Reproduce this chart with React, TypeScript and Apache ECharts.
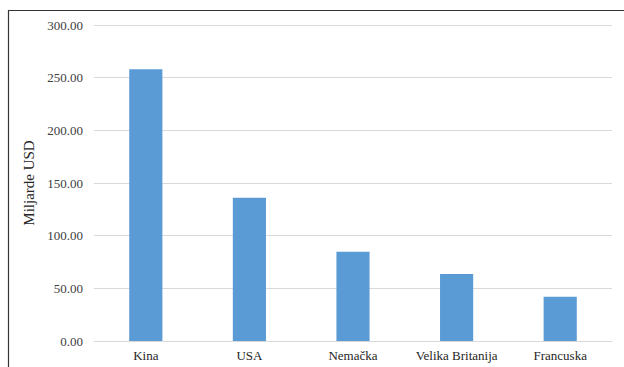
import React, { useEffect, useRef } from "react";
import * as echarts from "echarts";

const categories = ["Kina", "USA", "Nemačka", "Velika Britanija", "Francuska"];
const values = [258, 136, 84.7, 63.5, 42];
const yTicks = { min: 0, max: 300, interval: 50 };
const yAxisName = "Miljarde USD";

export default function App() {
  const ref = useRef<HTMLDivElement>(null);
  useEffect(() => {
    if (!ref.current) return;
    const chart = echarts.init(ref.current, null, { renderer: "svg" });
    const font = "Liberation Serif";
    chart.setOption({
      animation: false,
      textStyle: { fontFamily: font },
      grid: { left: 94, right: 12, top: 25, bottom: 26, containLabel: false },
      graphic: [
        {
          type: "rect",
          shape: { x: 8.5, y: 10.5, width: 700, height: 400 },
          style: { fill: "none", stroke: "#333333", lineWidth: 1.2 },
          silent: true,
        },
      ],
      xAxis: {
        type: "category",
        data: categories,
        axisLine: { show: true, lineStyle: { color: "#d9d9d9", width: 1 } },
        axisTick: { show: false },
        axisLabel: { color: "#262626", fontFamily: font, fontSize: 13, margin: 8, interval: 0 },
      },
      yAxis: {
        type: "value",
        min: yTicks.min,
        max: yTicks.max,
        interval: yTicks.interval,
        name: yAxisName,
        nameLocation: "middle",
        nameGap: 54,
        nameRotate: 90,
        nameTextStyle: { color: "#262626", fontFamily: font, fontSize: 15 },
        axisLine: { show: false },
        axisTick: { show: false },
        splitLine: { lineStyle: { color: "#d9d9d9", width: 1 } },
        axisLabel: {
          color: "#404040",
          fontFamily: font,
          fontSize: 13,
          margin: 11,
          formatter: (v: number) => v.toFixed(2),
        },
      },
      series: [
        {
          type: "bar",
          data: values,
          barWidth: "32%",
          itemStyle: { color: "#5B9BD5" },
        },
      ],
    });
    return () => chart.dispose();
  }, []);
  return <div ref={ref} style={{ width: 624, height: 367, position: "absolute", left: 0, top: 0 }} />;
}
